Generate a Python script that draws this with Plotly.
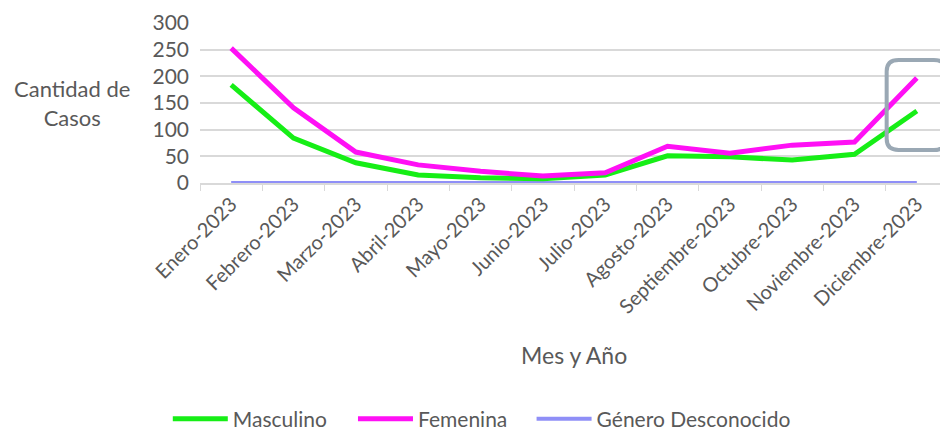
import plotly.graph_objects as go

meses = ["Enero-2023", "Febrero-2023", "Marzo-2023", "Abril-2023", "Mayo-2023", "Junio-2023",
         "Julio-2023", "Agosto-2023", "Septiembre-2023", "Octubre-2023", "Noviembre-2023", "Diciembre-2023"]
masculino = [184, 84, 38, 15, 10, 8, 15, 51, 49, 43, 54, 135]
femenina = [253, 141, 58, 34, 22, 13, 19, 69, 56, 71, 77, 197]
desconocido = [0, 0, 0, 0, 0, 0, 0, 0, 0, 0, 0, 0]

FONT = "Lato"
GRAY = "#595959"

fig = go.Figure()
fig.add_trace(go.Scatter(x=meses, y=desconocido, name="Género Desconocido", mode="lines",
                         line=dict(color="#8f8ff7", width=4), legend="legend3"))
fig.add_trace(go.Scatter(x=meses, y=masculino, name="Masculino", mode="lines",
                         line=dict(color="#16ee16", width=5), legend="legend"))
fig.add_trace(go.Scatter(x=meses, y=femenina, name="Femenina", mode="lines",
                         line=dict(color="#ff10f5", width=5), legend="legend2"))


def leg(xpos):
    return dict(orientation="h", xref="container", yref="container",
                x=xpos, xanchor="left", y=0.028, yanchor="middle",
                font=dict(size=21, color=GRAY), itemwidth=55, bgcolor="rgba(0,0,0,0)")


fig.update_layout(
    width=940, height=423,
    margin=dict(l=192, r=0, t=15, b=248, autoexpand=False),
    paper_bgcolor="white", plot_bgcolor="white",
    font=dict(family=FONT, color=GRAY),
    showlegend=True,
    legend=leg(0.170), legend2=leg(0.367), legend3=leg(0.557),
    xaxis=dict(type="category", showgrid=False, showline=True, linecolor="#d9d9d9", linewidth=1.5,
               ticks="outside", tickson="boundaries", ticklen=6, tickcolor="#d9d9d9",
               tickangle=-45, tickfont=dict(size=20, color=GRAY), range=[-0.5, 11.5],
               automargin=False),
    yaxis=dict(range=[0, 300], tickvals=[0, 50, 100, 150, 200, 250, 300], showgrid=True,
               gridcolor="#d9d9d9", gridwidth=1.5, zeroline=False, showline=False,
               tickfont=dict(size=21, color=GRAY), ticklabelstandoff=10, automargin=False),
)

fig.add_annotation(text="Cantidad de<br>Casos", xref="paper", yref="paper", x=-0.171, y=0.5,
                   showarrow=False, font=dict(size=22, color=GRAY), xanchor="center", yanchor="middle")
fig.add_annotation(text="Mes y Año", xref="paper", yref="paper", x=0.5, y=-1.075,
                   showarrow=False, font=dict(size=23, color=GRAY), xanchor="center", yanchor="middle")

# hand-drawn rounded box highlight
x0, x1, y0, y1 = 0.918, 0.997, 0.206, 0.769
rx, ry = 0.016, 0.07
path = (f"M {x0+rx},{y1} L {x1-rx},{y1} Q {x1},{y1} {x1},{y1-ry} L {x1},{y0+ry} "
        f"Q {x1},{y0} {x1-rx},{y0} L {x0+rx},{y0} Q {x0},{y0} {x0},{y0+ry} "
        f"L {x0},{y1-ry} Q {x0},{y1} {x0+rx},{y1} Z")
fig.add_shape(type="path", path=path, xref="paper", yref="paper",
              line=dict(color="#9aa8b4", width=4))

fig.write_html("out.html")
